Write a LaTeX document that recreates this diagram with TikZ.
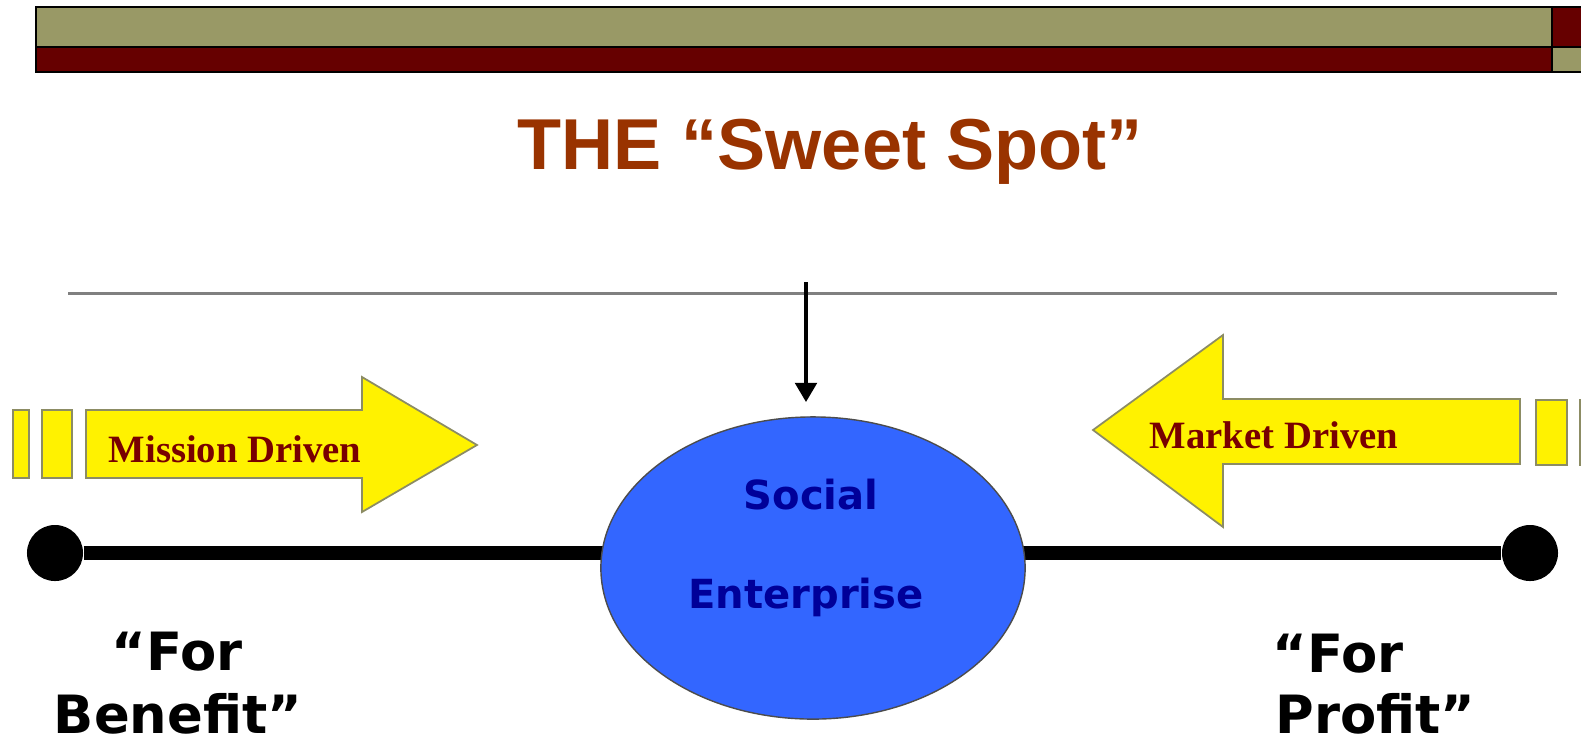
\documentclass[tikz,border=0pt]{standalone}
\usepackage{fontspec}
\setmainfont{Liberation Serif}
\newfontfamily\titlefont{Liberation Sans}
\newfontfamily\labelfont{DejaVu Sans}
\usetikzlibrary{arrows.meta,shapes.geometric}
\definecolor{barolive}{RGB}{153,153,102}
\definecolor{barred}{RGB}{102,0,0}
\definecolor{titlebrown}{RGB}{153,51,0}
\definecolor{seblue}{RGB}{51,102,255}
\definecolor{senavy}{RGB}{0,0,153}
\definecolor{drivered}{RGB}{120,0,0}
\definecolor{arrowedge}{RGB}{140,140,100}
\newcommand{\pole}[3]{\node[circle,fill=black,inner sep=0pt,minimum size=0.56cm](#1) at (#2,#3) {};}

\begin{document}
\begin{tikzpicture}[x=0.01cm,y=-0.01cm,
	bar/.style={draw=black,line width=0.6pt},
	drive/.style={fill=yellow,draw=arrowedge,line width=0.5pt},
	drivetext/.style={anchor=base,text=drivered,font=\bfseries\fontsize{11}{13}\selectfont},
	sidetext/.style={anchor=base,font=\labelfont\bfseries\fontsize{15}{18}\selectfont},
	setext/.style={anchor=base,text=senavy,font=\labelfont\bfseries\fontsize{11.4}{14}\selectfont}]
	\useasboundingbox (0,0) rectangle (1581,741);

	\draw[bar,fill=barolive] (36,7) rectangle (1552,47);
	\draw[bar,fill=barred] (36,47) rectangle (1552,72);
	\draw[bar,fill=barred] (1552,7) rectangle (1595,47);
	\draw[bar,fill=barolive] (1552,47) rectangle (1595,72);

	\node[anchor=base,text=titlebrown,font=\titlefont\bfseries\fontsize{20.5}{24}\selectfont](title) at (830,169) {THE “Sweet Spot”};

	\draw[gray,line width=0.85pt] (68,293) to (1557,293);

	\draw[drive] (13,410) rectangle (29,478);
	\draw[drive] (42,410) rectangle (72,478);
	\draw[drive] (86,410) -- (362,410) -- (362,377) -- (477,445) -- (362,512) -- (362,478) -- (86,478) -- cycle;
	\node[drivetext](mission) at (235,462) {Mission Driven};

	\draw[drive] (1536,400) rectangle (1567,465);
	\draw[drive] (1580,400) rectangle (1600,465);
	\draw[drive] (1520,399) -- (1223,399) -- (1223,335) -- (1093,430) -- (1223,527) -- (1223,464) -- (1520,464) -- cycle;
	\node[drivetext](market) at (1274,448) {Market Driven};

	\pole{benefit}{55}{553}
	\pole{profit}{1530}{553}
	\draw[line width=4pt] (benefit) to (profit);

	\node[ellipse,fill=seblue,draw=black!70,line width=0.4pt,minimum width=4.24cm,minimum height=3.02cm](se) at (813,568) {};
	\node[setext](social) at (811,509) {Social};
	\node[setext](enterprise) at (806,608) {Enterprise};

	\coordinate (aim) at (806,282);
	\draw[arrows={-Triangle[length=5.5pt,width=6pt]},line width=1.4pt,shorten >=0.14cm] (aim) to (aim |- se.north);

	\node[sidetext](for1) at (177,670) {“For};
	\node[sidetext](benefitlabel) at (178,733) {Benefit”};
	\node[sidetext,anchor=base west](for2) at (1260,672) {“For};
	\node[sidetext,anchor=base west](profitlabel) at (1263,733) {Profit”};
\end{tikzpicture}
\end{document}
